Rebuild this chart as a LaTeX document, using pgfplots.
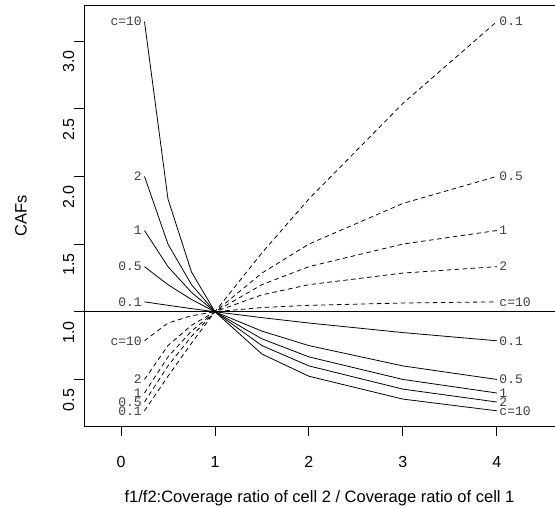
\documentclass[border=0pt]{standalone}
\usepackage{fontspec}
\setmainfont{Liberation Sans}
\newfontfamily\mono{Liberation Mono}
\usepackage{pgfplots}
\pgfplotsset{compat=1.18}
\usetikzlibrary{calc}

\newcommand{\lab}{\mono\fontsize{13}{15}\selectfont}
\newcommand{\axfont}{\fontsize{16.5}{19}\selectfont}
\newcommand{\tkfont}{\fontsize{16}{19}\selectfont}

\begin{document}
\begin{tikzpicture}
\begin{axis}[
  name=ax, at={(0,0)}, anchor=south west,
  scale only axis, width=471pt, height=421pt,
  xmin=-0.394, xmax=4.62, ymin=0.156, ymax=3.266,
  axis x line*=box, axis y line*=left,
  xtick pos=bottom, ytick pos=left,
  axis line style={line width=0.8pt, -},
  xtick={0,1,2,3,4}, ytick={0.5,1,1.5,2,2.5,3},
  tick align=outside, major tick length=10pt,
  tick style={black, line width=0.8pt},
  /pgf/number format/assume math mode=true,
  yticklabel={\pgfmathprintnumber[fixed,fixed zerofill,precision=1]{\tick}},
  ticklabel style={font=\tkfont},
  yticklabel style={rotate=90, anchor=base, xshift=-20.6pt},
  xticklabel style={anchor=base, yshift=-31pt},
  xlabel={f1/f2:Coverage ratio of cell 2 / Coverage ratio of cell 1},
  ylabel={CAFs},
  every axis x label/.style={at={(rel axis cs:0.5,0)}, yshift=-72pt, anchor=center, font=\axfont},
  every axis y label/.style={at={(rel axis cs:0,0.5)}, xshift=-63pt, rotate=90, anchor=center, font=\axfont},
  clip=false,
]
% reference line
\addplot[black, line width=0.8pt] coordinates {(-0.394,1)(4.62,1)};
% solid: c = 0.1, 0.5, 1, 2, 10
\addplot[black, line width=0.8pt] coordinates {(0.25,1.0732)(0.5,1.0476)(0.75,1.0233)(1,1)(1.5,0.9565)(2,0.9167)(3,0.8462)(4,0.7857)};
\addplot[black, line width=0.8pt] coordinates {(0.25,1.3333)(0.5,1.2)(0.75,1.0909)(1,1)(1.5,0.8571)(2,0.75)(3,0.6)(4,0.5)};
\addplot[black, line width=0.8pt] coordinates {(0.25,1.6)(0.5,1.3333)(0.75,1.1429)(1,1)(1.5,0.8)(2,0.6667)(3,0.5)(4,0.4)};
\addplot[black, line width=0.8pt] coordinates {(0.25,2.0)(0.5,1.5)(0.75,1.2)(1,1)(1.5,0.75)(2,0.6)(3,0.4286)(4,0.3333)};
\addplot[black, line width=0.8pt] coordinates {(0.25,3.1429)(0.5,1.8333)(0.75,1.2941)(1,1)(1.5,0.6875)(2,0.5238)(3,0.3548)(4,0.2683)};
% dashed: c = 0.1, 0.5, 1, 2, 10
\addplot[black, line width=0.8pt, dash pattern=on 4.5pt off 3.5pt] coordinates {(0.25,0.2683)(0.5,0.5238)(0.75,0.7674)(1,1)(1.5,1.4348)(2,1.8333)(3,2.5385)(4,3.1429)};
\addplot[black, line width=0.8pt, dash pattern=on 4.5pt off 3.5pt] coordinates {(0.25,0.3333)(0.5,0.6)(0.75,0.8182)(1,1)(1.5,1.2857)(2,1.5)(3,1.8)(4,2.0)};
\addplot[black, line width=0.8pt, dash pattern=on 4.5pt off 3.5pt] coordinates {(0.25,0.4)(0.5,0.6667)(0.75,0.8571)(1,1)(1.5,1.2)(2,1.3333)(3,1.5)(4,1.6)};
\addplot[black, line width=0.8pt, dash pattern=on 4.5pt off 3.5pt] coordinates {(0.25,0.5)(0.5,0.75)(0.75,0.9)(1,1)(1.5,1.125)(2,1.2)(3,1.2857)(4,1.3333)};
\addplot[black, line width=0.8pt, dash pattern=on 4.5pt off 3.5pt] coordinates {(0.25,0.7857)(0.5,0.9167)(0.75,0.9706)(1,1)(1.5,1.0313)(2,1.0476)(3,1.0645)(4,1.0732)};
% labels, left end
\begin{scope}[every node/.style={font=\lab, text=black!75, inner sep=2.5pt}]
\node[anchor=east] at (axis cs:0.25,3.1429) {c=10};
\node[anchor=east] at (axis cs:0.25,2.0) {2};
\node[anchor=east] at (axis cs:0.25,1.6) {1};
\node[anchor=east] at (axis cs:0.25,1.3333) {0.5};
\node[anchor=east] at (axis cs:0.25,1.0732) {0.1};
\node[anchor=east] at (axis cs:0.25,0.7857) {c=10};
\node[anchor=east] at (axis cs:0.25,0.5) {2};
\node[anchor=east] at (axis cs:0.25,0.4) {1};
\node[anchor=east] at (axis cs:0.25,0.3333) {0.5};
\node[anchor=east] at (axis cs:0.25,0.2683) {0.1};
% labels, right end
\node[anchor=west] at (axis cs:4,3.1429) {0.1};
\node[anchor=west] at (axis cs:4,2.0) {0.5};
\node[anchor=west] at (axis cs:4,1.6) {1};
\node[anchor=west] at (axis cs:4,1.3333) {2};
\node[anchor=west] at (axis cs:4,1.0732) {c=10};
\node[anchor=west] at (axis cs:4,0.7857) {0.1};
\node[anchor=west] at (axis cs:4,0.5) {0.5};
\node[anchor=west] at (axis cs:4,0.4) {1};
\node[anchor=west] at (axis cs:4,0.3333) {2};
\node[anchor=west] at (axis cs:4,0.2683) {c=10};
\end{scope}
\end{axis}
\pgfresetboundingbox
\path[use as bounding box] ($(ax.south west)+(-84pt,-81pt)$) rectangle ($(ax.north east)+(0pt,5pt)$);
\end{tikzpicture}
\end{document}
